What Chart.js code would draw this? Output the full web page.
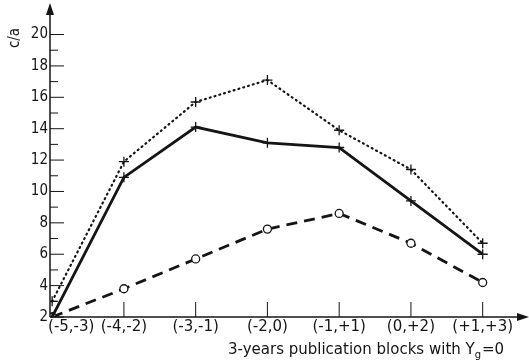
<!DOCTYPE html>
<html>
<head>
<meta charset="utf-8">
<script src="https://cdn.jsdelivr.net/npm/chart.js@4"></script>
<style>
  html, body { margin: 0; padding: 0; background: #fff; }
  #wrap { width: 529px; height: 362px; }
</style>
</head>
<body>
<div id="wrap"><canvas id="chart" width="529" height="362"></canvas></div>
<script>
// Data
const blocks = ['(-5,-3)', '(-4,-2)', '(-3,-1)', '(-2,0)', '(-1,+1)', '(0,+2)', '(+1,+3)'];
const dotted = [3.0, 11.9, 15.7, 17.1, 13.9, 11.4, 6.7];
const solid = [2.0, 10.9, 14.1, 13.1, 12.8, 9.4, 6.0];
const dashed = [2.0, 3.8, 5.7, 7.6, 8.6, 6.7, 4.2];
const yTicks = [2, 4, 6, 8, 10, 12, 14, 16, 18, 20];
const yMinor = [3, 5, 7, 9, 11, 13, 15, 17, 19];

const INK = '#151515';
const NARROW = "'DejaVu Sans Condensed', 'Liberation Sans Narrow', sans-serif";
const WIDE = "'DejaVu Sans', sans-serif";

const pts = arr => arr.map((y, i) => ({ x: i, y }));

// axes with arrows, inward tick marks, axis titles
const axesPlugin = {
  id: 'axes',
  afterDraw(chart) {
    const { ctx, scales: { x, y } } = chart;
    const x0 = x.getPixelForValue(x.min);
    const y0 = y.getPixelForValue(y.min);
    ctx.save();
    ctx.strokeStyle = INK;
    ctx.fillStyle = INK;
    ctx.lineWidth = 1.5;
    // y axis
    ctx.beginPath();
    ctx.moveTo(x0, y0);
    ctx.lineTo(x0, 12);
    ctx.stroke();
    ctx.beginPath();
    ctx.moveTo(x0, 3);
    ctx.lineTo(x0 - 4, 15);
    ctx.lineTo(x0 + 4, 15);
    ctx.closePath();
    ctx.fill();
    // x axis
    ctx.beginPath();
    ctx.moveTo(x0, y0);
    ctx.lineTo(518, y0);
    ctx.stroke();
    ctx.beginPath();
    ctx.moveTo(529, y0);
    ctx.lineTo(517, y0 - 4);
    ctx.lineTo(517, y0 + 4);
    ctx.closePath();
    ctx.fill();
    // y ticks
    ctx.lineWidth = 1;
    yTicks.forEach(v => {
      const py = y.getPixelForValue(v);
      ctx.beginPath();
      ctx.moveTo(x0, py);
      ctx.lineTo(x0 + 14, py);
      ctx.stroke();
    });
    yMinor.forEach(v => {
      const py = y.getPixelForValue(v);
      ctx.beginPath();
      ctx.moveTo(x0, py);
      ctx.lineTo(x0 + 8, py);
      ctx.stroke();
    });
    // x ticks
    blocks.forEach((b, i) => {
      if (i === 0) return;
      const px = x.getPixelForValue(i);
      ctx.beginPath();
      ctx.moveTo(px, y0);
      ctx.lineTo(px, y0 - 15);
      ctx.stroke();
    });
    // y title
    ctx.font = '15px ' + NARROW;
    ctx.textAlign = 'center';
    ctx.textBaseline = 'middle';
    ctx.save();
    ctx.translate(15, 38);
    ctx.rotate(-Math.PI / 2);
    ctx.fillText('c/a', 0, 0);
    ctx.restore();
    // x title with subscript
    ctx.textAlign = 'left';
    ctx.textBaseline = 'alphabetic';
    ctx.font = '15px ' + WIDE;
    const t1 = '3-years publication blocks with Y';
    let tx = 228;
    const ty = 354;
    ctx.fillText(t1, tx, ty);
    tx += ctx.measureText(t1).width;
    ctx.font = '10px ' + WIDE;
    ctx.fillText('g', tx, ty + 4);
    tx += ctx.measureText('g').width + 1;
    ctx.font = '15px ' + WIDE;
    ctx.fillText('=0', tx, ty);
    ctx.restore();
  }
};

new Chart(document.getElementById('chart'), {
  type: 'line',
  data: {
    datasets: [
      {
        label: 'dotted',
        data: pts(dotted),
        borderColor: INK,
        borderWidth: 2.2,
        borderDash: [1, 4],
        borderCapStyle: 'round',
        pointStyle: 'cross',
        pointRadius: 5,
        pointBorderWidth: 1.3,
        pointBorderColor: INK
      },
      {
        label: 'solid',
        data: pts(solid),
        borderColor: INK,
        borderWidth: 2.8,
        pointStyle: 'cross',
        pointRadius: 5,
        pointBorderWidth: 1.3,
        pointBorderColor: INK
      },
      {
        label: 'dashed',
        data: pts(dashed),
        borderColor: INK,
        borderWidth: 2.8,
        borderDash: [11, 7],
        pointStyle: 'circle',
        pointRadius: 4,
        pointBorderWidth: 1.3,
        pointBorderColor: INK,
        pointBackgroundColor: '#fff'
      }
    ]
  },
  options: {
    responsive: false,
    animation: false,
    layout: { padding: { top: 9, right: 9, left: 0, bottom: 0 } },
    plugins: { legend: { display: false }, tooltip: { enabled: false } },
    scales: {
      x: {
        type: 'linear',
        min: -0.03,
        max: 6.52,
        grid: { display: false, drawTicks: false },
        border: { display: false },
        afterBuildTicks: s => { s.ticks = blocks.map((b, i) => ({ value: i })); },
        afterFit: s => { s.height = 45; },
        ticks: {
          color: INK,
          padding: 1,
          maxRotation: 0,
          autoSkip: false,
          font: { family: WIDE, size: 15 },
          // first label sits to the right of the origin in the figure
          callback: v => (v === 0 ? '\u2007\u2007\u2007\u2007' + blocks[v] : blocks[v])
        }
      },
      y: {
        min: 2,
        max: 21.5,
        grid: { display: false, drawTicks: false },
        border: { display: false },
        afterBuildTicks: s => { s.ticks = yTicks.map(v => ({ value: v })); },
        afterFit: s => { s.width = 50; },
        ticks: {
          color: INK,
          padding: 2,
          font: { family: NARROW, size: 15 }
        }
      }
    }
  },
  plugins: [axesPlugin]
});
</script>
</body>
</html>
